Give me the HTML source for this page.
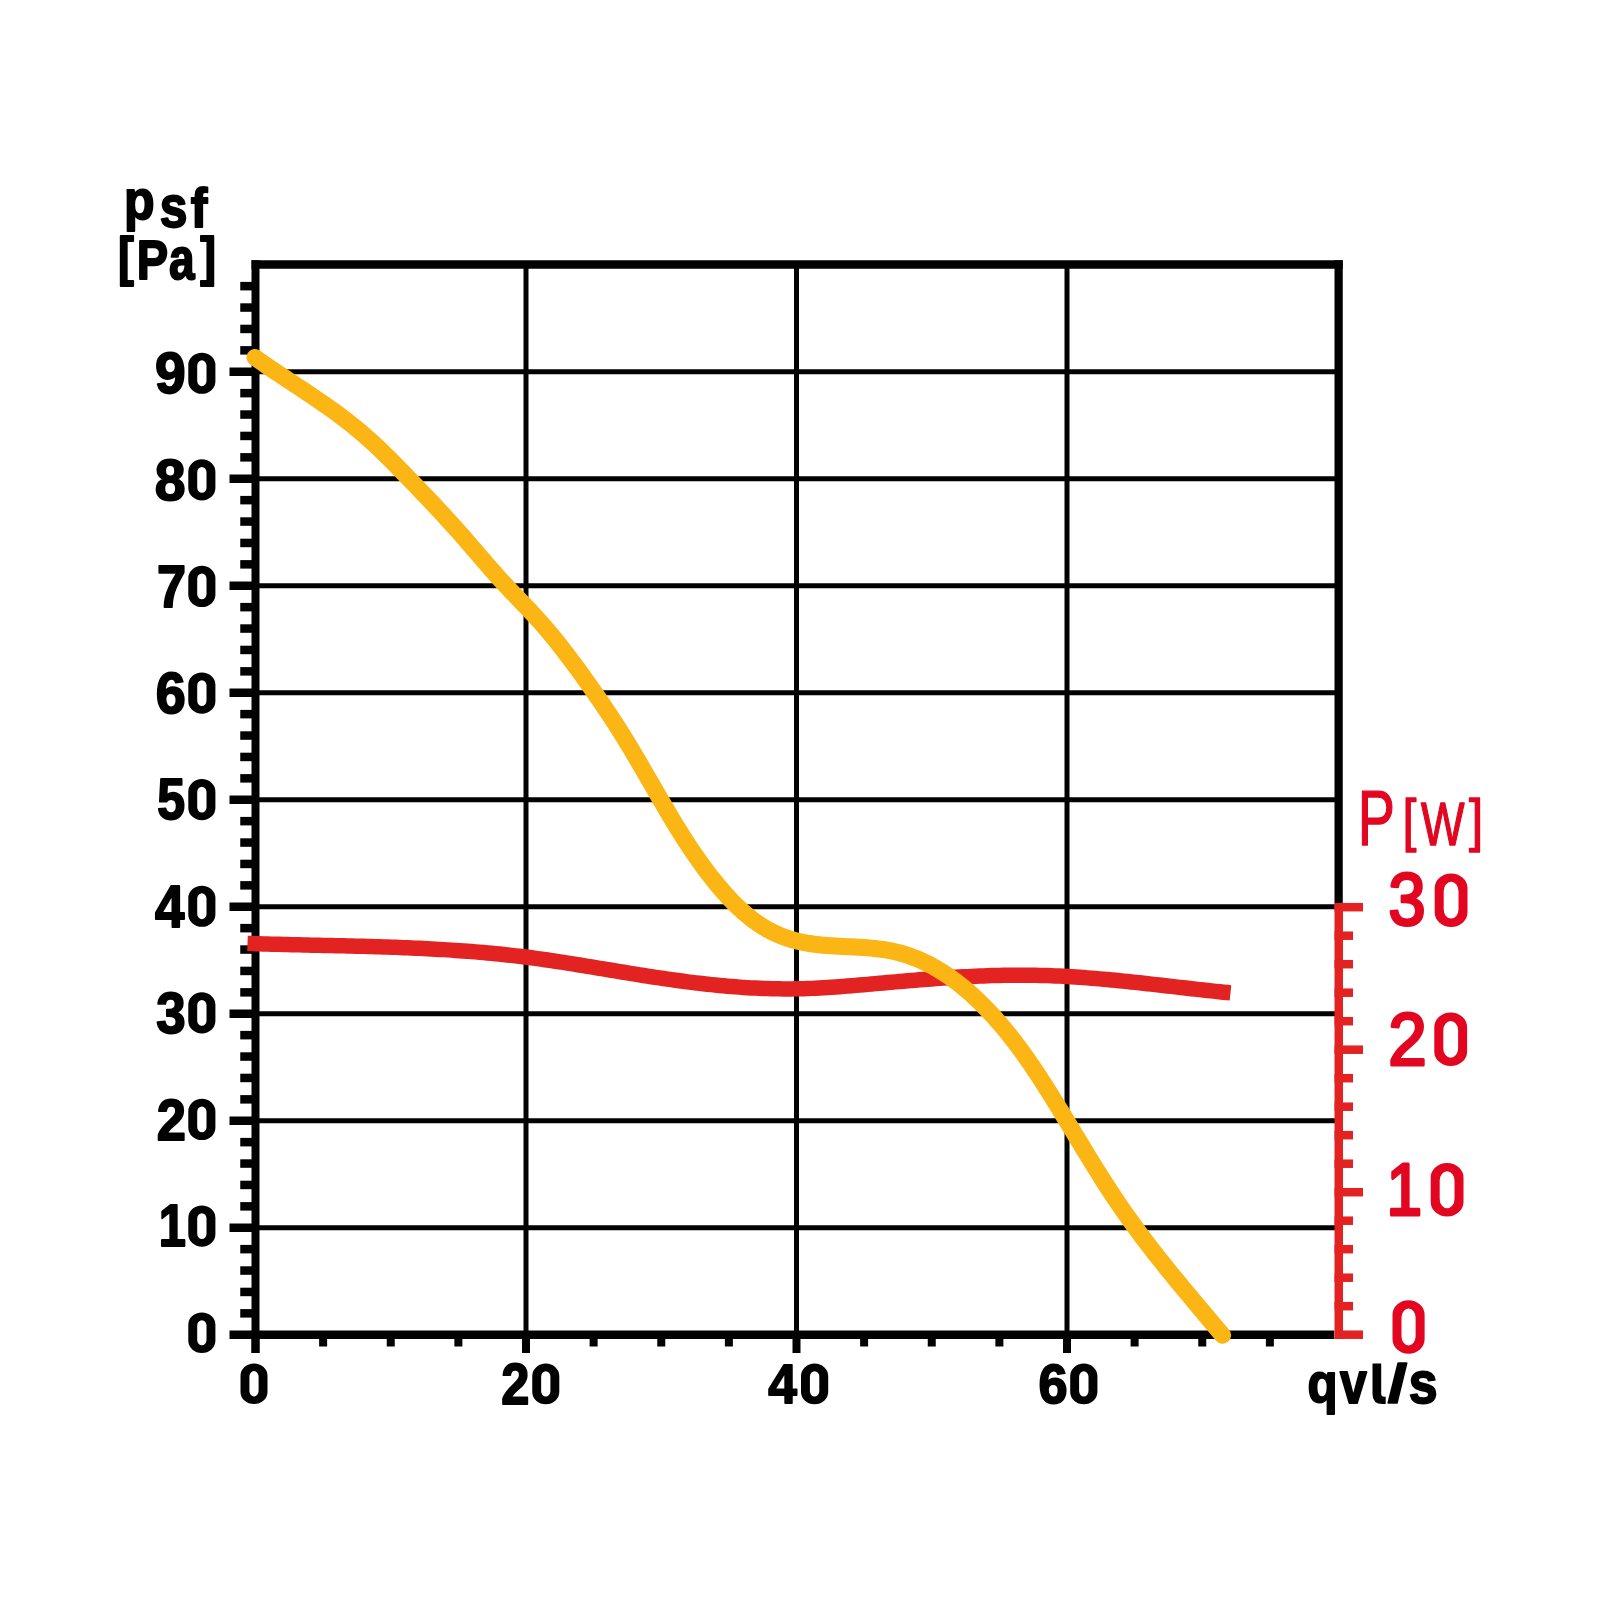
<!DOCTYPE html>
<html><head><meta charset="utf-8"><style>
html,body{margin:0;padding:0;background:#fff;}
body{width:1600px;height:1600px;overflow:hidden;}
svg{display:block;font-family:"Liberation Sans",sans-serif;}
</style></head><body>
<svg width="1600" height="1600" viewBox="0 0 1600 1600">
<rect width="1600" height="1600" fill="#fff"/>
<rect x="255.5" y="1225.25" width="1083.25" height="5.0" fill="#020202"/>
<rect x="255.5" y="1118.25" width="1083.25" height="5.0" fill="#020202"/>
<rect x="255.5" y="1011.25" width="1083.25" height="5.0" fill="#020202"/>
<rect x="255.5" y="904.25" width="1083.25" height="5.0" fill="#020202"/>
<rect x="255.5" y="797.25" width="1083.25" height="5.0" fill="#020202"/>
<rect x="255.5" y="690.25" width="1083.25" height="5.0" fill="#020202"/>
<rect x="255.5" y="583.25" width="1083.25" height="5.0" fill="#020202"/>
<rect x="255.5" y="476.25" width="1083.25" height="5.0" fill="#020202"/>
<rect x="255.5" y="369.25" width="1083.25" height="5.0" fill="#020202"/>
<rect x="523.50" y="264.5" width="5.0" height="1070.25" fill="#020202"/>
<rect x="794.00" y="264.5" width="5.0" height="1070.25" fill="#020202"/>
<rect x="1064.50" y="264.5" width="5.0" height="1070.25" fill="#020202"/>
<rect x="229.5" y="1330.50" width="26" height="8.5" fill="#020202"/>
<rect x="240.25" y="1309.10" width="15" height="8.5" fill="#020202"/>
<rect x="240.25" y="1287.70" width="15" height="8.5" fill="#020202"/>
<rect x="240.25" y="1266.30" width="15" height="8.5" fill="#020202"/>
<rect x="240.25" y="1244.90" width="15" height="8.5" fill="#020202"/>
<rect x="229.5" y="1223.50" width="26" height="8.5" fill="#020202"/>
<rect x="240.25" y="1202.10" width="15" height="8.5" fill="#020202"/>
<rect x="240.25" y="1180.70" width="15" height="8.5" fill="#020202"/>
<rect x="240.25" y="1159.30" width="15" height="8.5" fill="#020202"/>
<rect x="240.25" y="1137.90" width="15" height="8.5" fill="#020202"/>
<rect x="229.5" y="1116.50" width="26" height="8.5" fill="#020202"/>
<rect x="240.25" y="1095.10" width="15" height="8.5" fill="#020202"/>
<rect x="240.25" y="1073.70" width="15" height="8.5" fill="#020202"/>
<rect x="240.25" y="1052.30" width="15" height="8.5" fill="#020202"/>
<rect x="240.25" y="1030.90" width="15" height="8.5" fill="#020202"/>
<rect x="229.5" y="1009.50" width="26" height="8.5" fill="#020202"/>
<rect x="240.25" y="988.10" width="15" height="8.5" fill="#020202"/>
<rect x="240.25" y="966.70" width="15" height="8.5" fill="#020202"/>
<rect x="240.25" y="945.30" width="15" height="8.5" fill="#020202"/>
<rect x="240.25" y="923.90" width="15" height="8.5" fill="#020202"/>
<rect x="229.5" y="902.50" width="26" height="8.5" fill="#020202"/>
<rect x="240.25" y="881.10" width="15" height="8.5" fill="#020202"/>
<rect x="240.25" y="859.70" width="15" height="8.5" fill="#020202"/>
<rect x="240.25" y="838.30" width="15" height="8.5" fill="#020202"/>
<rect x="240.25" y="816.90" width="15" height="8.5" fill="#020202"/>
<rect x="229.5" y="795.50" width="26" height="8.5" fill="#020202"/>
<rect x="240.25" y="774.10" width="15" height="8.5" fill="#020202"/>
<rect x="240.25" y="752.70" width="15" height="8.5" fill="#020202"/>
<rect x="240.25" y="731.30" width="15" height="8.5" fill="#020202"/>
<rect x="240.25" y="709.90" width="15" height="8.5" fill="#020202"/>
<rect x="229.5" y="688.50" width="26" height="8.5" fill="#020202"/>
<rect x="240.25" y="667.10" width="15" height="8.5" fill="#020202"/>
<rect x="240.25" y="645.70" width="15" height="8.5" fill="#020202"/>
<rect x="240.25" y="624.30" width="15" height="8.5" fill="#020202"/>
<rect x="240.25" y="602.90" width="15" height="8.5" fill="#020202"/>
<rect x="229.5" y="581.50" width="26" height="8.5" fill="#020202"/>
<rect x="240.25" y="560.10" width="15" height="8.5" fill="#020202"/>
<rect x="240.25" y="538.70" width="15" height="8.5" fill="#020202"/>
<rect x="240.25" y="517.30" width="15" height="8.5" fill="#020202"/>
<rect x="240.25" y="495.90" width="15" height="8.5" fill="#020202"/>
<rect x="229.5" y="474.50" width="26" height="8.5" fill="#020202"/>
<rect x="240.25" y="453.10" width="15" height="8.5" fill="#020202"/>
<rect x="240.25" y="431.70" width="15" height="8.5" fill="#020202"/>
<rect x="240.25" y="410.30" width="15" height="8.5" fill="#020202"/>
<rect x="240.25" y="388.90" width="15" height="8.5" fill="#020202"/>
<rect x="229.5" y="367.50" width="26" height="8.5" fill="#020202"/>
<rect x="240.25" y="346.10" width="15" height="8.5" fill="#020202"/>
<rect x="240.25" y="324.70" width="15" height="8.5" fill="#020202"/>
<rect x="240.25" y="303.30" width="15" height="8.5" fill="#020202"/>
<rect x="240.25" y="281.90" width="15" height="8.5" fill="#020202"/>
<rect x="251.50" y="1334.75" width="8" height="18.25" fill="#020202"/>
<rect x="319.12" y="1334.75" width="8" height="11.75" fill="#020202"/>
<rect x="386.75" y="1334.75" width="8" height="11.75" fill="#020202"/>
<rect x="454.38" y="1334.75" width="8" height="11.75" fill="#020202"/>
<rect x="522.00" y="1334.75" width="8" height="18.25" fill="#020202"/>
<rect x="589.62" y="1334.75" width="8" height="11.75" fill="#020202"/>
<rect x="657.25" y="1334.75" width="8" height="11.75" fill="#020202"/>
<rect x="724.88" y="1334.75" width="8" height="11.75" fill="#020202"/>
<rect x="792.50" y="1334.75" width="8" height="18.25" fill="#020202"/>
<rect x="860.12" y="1334.75" width="8" height="11.75" fill="#020202"/>
<rect x="927.75" y="1334.75" width="8" height="11.75" fill="#020202"/>
<rect x="995.38" y="1334.75" width="8" height="11.75" fill="#020202"/>
<rect x="1063.00" y="1334.75" width="8" height="18.25" fill="#020202"/>
<rect x="1130.62" y="1334.75" width="8" height="11.75" fill="#020202"/>
<rect x="1198.25" y="1334.75" width="8" height="11.75" fill="#020202"/>
<rect x="1265.88" y="1334.75" width="8" height="11.75" fill="#020202"/>
<rect x="251.5" y="260.25" width="8" height="1092.75" fill="#020202"/>
<rect x="251.5" y="260.25" width="1091.25" height="8.5" fill="#020202"/>
<rect x="251.5" y="1330.5" width="1082.50" height="8.5" fill="#020202"/>
<rect x="1334.5" y="260.25" width="8.25" height="642.75" fill="#020202"/>
<rect x="1334.5" y="903" width="8.5" height="436.00" fill="#E22322"/>
<rect x="1334.5" y="1330.45" width="28.5" height="8.5" fill="#E22322"/>
<rect x="1334.5" y="1301.95" width="18.5" height="8.5" fill="#E22322"/>
<rect x="1334.5" y="1273.45" width="18.5" height="8.5" fill="#E22322"/>
<rect x="1334.5" y="1244.95" width="18.5" height="8.5" fill="#E22322"/>
<rect x="1334.5" y="1216.45" width="18.5" height="8.5" fill="#E22322"/>
<rect x="1334.5" y="1187.95" width="28.5" height="8.5" fill="#E22322"/>
<rect x="1334.5" y="1159.45" width="18.5" height="8.5" fill="#E22322"/>
<rect x="1334.5" y="1130.95" width="18.5" height="8.5" fill="#E22322"/>
<rect x="1334.5" y="1102.45" width="18.5" height="8.5" fill="#E22322"/>
<rect x="1334.5" y="1073.95" width="18.5" height="8.5" fill="#E22322"/>
<rect x="1334.5" y="1045.45" width="28.5" height="8.5" fill="#E22322"/>
<rect x="1334.5" y="1016.95" width="18.5" height="8.5" fill="#E22322"/>
<rect x="1334.5" y="988.45" width="18.5" height="8.5" fill="#E22322"/>
<rect x="1334.5" y="959.95" width="18.5" height="8.5" fill="#E22322"/>
<rect x="1334.5" y="931.45" width="18.5" height="8.5" fill="#E22322"/>
<rect x="1334.5" y="902.95" width="28.5" height="8.5" fill="#E22322"/>
<path d="M247.50,943.39 L251.50,943.53 L255.50,943.67 L259.50,943.79 L263.50,943.92 L267.50,944.03 L271.50,944.15 L275.50,944.26 L279.50,944.37 L283.50,944.47 L287.50,944.57 L291.50,944.67 L295.50,944.77 L299.50,944.86 L303.50,944.95 L307.50,945.04 L311.50,945.14 L315.50,945.22 L319.50,945.31 L323.50,945.40 L327.50,945.49 L331.50,945.58 L335.50,945.68 L339.50,945.77 L343.50,945.86 L347.50,945.96 L351.50,946.06 L355.50,946.16 L359.50,946.26 L363.50,946.37 L367.50,946.48 L371.50,946.59 L375.50,946.71 L379.50,946.83 L383.50,946.96 L387.50,947.09 L391.50,947.23 L395.50,947.37 L399.50,947.52 L403.50,947.67 L407.50,947.83 L411.50,948.00 L415.50,948.18 L419.50,948.36 L423.50,948.55 L427.50,948.75 L431.50,948.96 L435.50,949.17 L439.50,949.40 L443.50,949.63 L447.50,949.88 L451.50,950.13 L455.50,950.40 L459.50,950.67 L463.50,950.96 L467.50,951.26 L471.50,951.57 L475.50,951.89 L479.50,952.22 L483.50,952.57 L487.50,952.93 L491.50,953.30 L495.50,953.69 L499.50,954.08 L503.50,954.50 L507.50,954.93 L511.50,955.37 L515.50,955.83 L519.50,956.30 L523.50,956.79 L527.50,957.29 L531.50,957.81 L535.50,958.35 L539.50,958.90 L543.50,959.46 L547.50,960.04 L551.50,960.62 L555.50,961.22 L559.50,961.83 L563.50,962.44 L567.50,963.07 L571.50,963.70 L575.50,964.34 L579.50,964.99 L583.50,965.64 L587.50,966.29 L591.50,966.95 L595.50,967.61 L599.50,968.28 L603.50,968.94 L607.50,969.61 L611.50,970.27 L615.50,970.93 L619.50,971.60 L623.50,972.25 L627.50,972.91 L631.50,973.56 L635.50,974.21 L639.50,974.84 L643.50,975.48 L647.50,976.10 L651.50,976.72 L655.50,977.33 L659.50,977.93 L663.50,978.52 L667.50,979.10 L671.50,979.67 L675.50,980.22 L679.50,980.77 L683.50,981.30 L687.50,981.82 L691.50,982.33 L695.50,982.82 L699.50,983.30 L703.50,983.76 L707.50,984.21 L711.50,984.64 L715.50,985.05 L719.50,985.44 L723.50,985.82 L727.50,986.18 L731.50,986.52 L735.50,986.84 L739.50,987.13 L743.50,987.41 L747.50,987.67 L751.50,987.90 L755.50,988.11 L759.50,988.30 L763.50,988.46 L767.50,988.60 L771.50,988.71 L775.50,988.80 L779.50,988.86 L783.50,988.90 L787.50,988.91 L791.50,988.89 L795.50,988.84 L799.50,988.76 L803.50,988.65 L807.50,988.52 L811.50,988.37 L815.50,988.19 L819.50,987.98 L823.50,987.76 L827.50,987.52 L831.50,987.26 L835.50,986.98 L839.50,986.69 L843.50,986.38 L847.50,986.06 L851.50,985.74 L855.50,985.40 L859.50,985.06 L863.50,984.71 L867.50,984.35 L871.50,984.00 L875.50,983.64 L879.50,983.28 L883.50,982.92 L887.50,982.56 L891.50,982.21 L895.50,981.86 L899.50,981.51 L903.50,981.17 L907.50,980.83 L911.50,980.50 L915.50,980.17 L919.50,979.84 L923.50,979.53 L927.50,979.22 L931.50,978.92 L935.50,978.62 L939.50,978.34 L943.50,978.06 L947.50,977.79 L951.50,977.54 L955.50,977.29 L959.50,977.05 L963.50,976.83 L967.50,976.62 L971.50,976.42 L975.50,976.23 L979.50,976.05 L983.50,975.89 L987.50,975.75 L991.50,975.62 L995.50,975.50 L999.50,975.40 L1003.50,975.32 L1007.50,975.25 L1011.50,975.20 L1015.50,975.17 L1019.50,975.15 L1023.50,975.16 L1027.50,975.18 L1031.50,975.23 L1035.50,975.29 L1039.50,975.38 L1043.50,975.48 L1047.50,975.61 L1051.50,975.76 L1055.50,975.93 L1059.50,976.11 L1063.50,976.32 L1067.50,976.54 L1071.50,976.78 L1075.50,977.03 L1079.50,977.30 L1083.50,977.59 L1087.50,977.89 L1091.50,978.20 L1095.50,978.53 L1099.50,978.87 L1103.50,979.22 L1107.50,979.59 L1111.50,979.96 L1115.50,980.34 L1119.50,980.74 L1123.50,981.14 L1127.50,981.55 L1131.50,981.97 L1135.50,982.39 L1139.50,982.82 L1143.50,983.26 L1147.50,983.70 L1151.50,984.14 L1155.50,984.59 L1159.50,985.04 L1163.50,985.50 L1167.50,985.95 L1171.50,986.41 L1175.50,986.87 L1179.50,987.33 L1183.50,987.78 L1187.50,988.24 L1191.50,988.69 L1195.50,989.15 L1199.50,989.59 L1203.50,990.04 L1207.50,990.48 L1211.50,990.91 L1215.50,991.34 L1219.50,991.76 L1223.50,992.17 L1227.50,992.58 L1230.50,992.88" fill="none" stroke="#E22322" stroke-width="15.5" stroke-linecap="butt" stroke-linejoin="round"/>
<path d="M255.00,357.46 L259.00,360.32 L263.00,363.13 L267.00,365.90 L271.00,368.64 L275.00,371.35 L279.00,374.03 L283.00,376.69 L287.00,379.34 L291.00,381.98 L295.00,384.62 L299.00,387.26 L303.00,389.91 L307.00,392.57 L311.00,395.25 L315.00,397.95 L319.00,400.68 L323.00,403.44 L327.00,406.24 L331.00,409.08 L335.00,411.98 L339.00,414.93 L343.00,417.94 L347.00,421.01 L351.00,424.16 L355.00,427.38 L359.00,430.68 L363.00,434.06 L367.00,437.54 L371.00,441.12 L375.00,444.79 L379.00,448.56 L383.00,452.41 L387.00,456.33 L391.00,460.32 L395.00,464.35 L399.00,468.43 L403.00,472.54 L407.00,476.66 L411.00,480.80 L415.00,484.95 L419.00,489.10 L423.00,493.28 L427.00,497.47 L431.00,501.69 L435.00,505.94 L439.00,510.21 L443.00,514.53 L447.00,518.88 L451.00,523.27 L455.00,527.71 L459.00,532.20 L463.00,536.74 L467.00,541.33 L471.00,545.95 L475.00,550.58 L479.00,555.23 L483.00,559.86 L487.00,564.48 L491.00,569.06 L495.00,573.60 L499.00,578.08 L503.00,582.48 L507.00,586.81 L511.00,591.04 L515.00,595.23 L519.00,599.37 L523.00,603.52 L527.00,607.69 L531.00,611.91 L535.00,616.20 L539.00,620.60 L543.00,625.13 L547.00,629.78 L551.00,634.55 L555.00,639.43 L559.00,644.43 L563.00,649.52 L567.00,654.72 L571.00,660.01 L575.00,665.38 L579.00,670.84 L583.00,676.38 L587.00,681.99 L591.00,687.66 L595.00,693.40 L599.00,699.20 L603.00,705.07 L607.00,711.02 L611.00,717.05 L615.00,723.19 L619.00,729.43 L623.00,735.78 L627.00,742.27 L631.00,748.87 L635.00,755.59 L639.00,762.39 L643.00,769.26 L647.00,776.17 L651.00,783.11 L655.00,790.04 L659.00,796.96 L663.00,803.84 L667.00,810.65 L671.00,817.39 L675.00,824.02 L679.00,830.52 L683.00,836.88 L687.00,843.08 L691.00,849.13 L695.00,855.01 L699.00,860.73 L703.00,866.28 L707.00,871.66 L711.00,876.86 L715.00,881.89 L719.00,886.73 L723.00,891.38 L727.00,895.84 L731.00,900.10 L735.00,904.17 L739.00,908.04 L743.00,911.70 L747.00,915.15 L751.00,918.39 L755.00,921.41 L759.00,924.21 L763.00,926.79 L767.00,929.15 L771.00,931.31 L775.00,933.26 L779.00,935.04 L783.00,936.63 L787.00,938.06 L791.00,939.34 L795.00,940.47 L799.00,941.47 L803.00,942.34 L807.00,943.10 L811.00,943.75 L815.00,944.31 L819.00,944.79 L823.00,945.19 L827.00,945.53 L831.00,945.82 L835.00,946.07 L839.00,946.29 L843.00,946.48 L847.00,946.66 L851.00,946.84 L855.00,947.04 L859.00,947.25 L863.00,947.49 L867.00,947.77 L871.00,948.10 L875.00,948.49 L879.00,948.96 L883.00,949.50 L887.00,950.14 L891.00,950.88 L895.00,951.73 L899.00,952.71 L903.00,953.81 L907.00,955.06 L911.00,956.44 L915.00,957.95 L919.00,959.61 L923.00,961.40 L927.00,963.33 L931.00,965.40 L935.00,967.61 L939.00,969.97 L943.00,972.46 L947.00,975.10 L951.00,977.88 L955.00,980.80 L959.00,983.87 L963.00,987.08 L967.00,990.44 L971.00,993.95 L975.00,997.60 L979.00,1001.40 L983.00,1005.34 L987.00,1009.44 L991.00,1013.68 L995.00,1018.07 L999.00,1022.62 L1003.00,1027.32 L1007.00,1032.16 L1011.00,1037.16 L1015.00,1042.32 L1019.00,1047.62 L1023.00,1053.08 L1027.00,1058.70 L1031.00,1064.47 L1035.00,1070.38 L1039.00,1076.43 L1043.00,1082.59 L1047.00,1088.86 L1051.00,1095.21 L1055.00,1101.65 L1059.00,1108.15 L1063.00,1114.70 L1067.00,1121.29 L1071.00,1127.90 L1075.00,1134.53 L1079.00,1141.15 L1083.00,1147.76 L1087.00,1154.34 L1091.00,1160.88 L1095.00,1167.37 L1099.00,1173.78 L1103.00,1180.12 L1107.00,1186.36 L1111.00,1192.49 L1115.00,1198.51 L1119.00,1204.42 L1123.00,1210.23 L1127.00,1215.93 L1131.00,1221.54 L1135.00,1227.06 L1139.00,1232.49 L1143.00,1237.84 L1147.00,1243.12 L1151.00,1248.33 L1155.00,1253.47 L1159.00,1258.55 L1163.00,1263.58 L1167.00,1268.56 L1171.00,1273.49 L1175.00,1278.38 L1179.00,1283.24 L1183.00,1288.07 L1187.00,1292.87 L1191.00,1297.65 L1195.00,1302.42 L1199.00,1307.17 L1203.00,1311.92 L1207.00,1316.67 L1211.00,1321.43 L1215.00,1326.20 L1219.00,1330.98 L1222.60,1335.30" fill="none" stroke="#FBB514" stroke-width="17" stroke-linecap="round" stroke-linejoin="round"/>
<text transform="matrix(0.27629 0 0 0.28592 155.02 392.98)" font-size="200" font-weight="bold" fill="#020202" stroke="#020202" stroke-width="6.40" stroke-linejoin="round">9</text>
<path d="M188.30,365.01 A13.55,12.36 0 0 1 215.40,365.01 V381.49 A13.55,12.36 0 0 1 188.30,381.49 Z M197.20,365.70 A4.65,5.35 0 0 1 206.50,365.70 V380.80 A4.65,5.35 0 0 1 197.20,380.80 Z" fill="#020202" fill-rule="evenodd"/>
<text transform="matrix(0.27677 0 0 0.28592 154.69 499.58)" font-size="200" font-weight="bold" fill="#020202" stroke="#020202" stroke-width="6.40" stroke-linejoin="round">8</text>
<path d="M188.30,471.61 A13.55,12.36 0 0 1 215.40,471.61 V488.09 A13.55,12.36 0 0 1 188.30,488.09 Z M197.20,472.30 A4.65,5.35 0 0 1 206.50,472.30 V487.40 A4.65,5.35 0 0 1 197.20,487.40 Z" fill="#020202" fill-rule="evenodd"/>
<text transform="matrix(0.26129 0 0 0.29420 157.10 606.75)" font-size="200" font-weight="bold" fill="#020202" stroke="#020202" stroke-width="6.48" stroke-linejoin="round">7</text>
<path d="M188.30,578.21 A13.55,12.36 0 0 1 215.40,578.21 V594.69 A13.55,12.36 0 0 1 188.30,594.69 Z M197.20,578.90 A4.65,5.35 0 0 1 206.50,578.90 V594.00 A4.65,5.35 0 0 1 197.20,594.00 Z" fill="#020202" fill-rule="evenodd"/>
<text transform="matrix(0.27010 0 0 0.28592 155.66 712.78)" font-size="200" font-weight="bold" fill="#020202" stroke="#020202" stroke-width="6.47" stroke-linejoin="round">6</text>
<path d="M188.30,684.81 A13.55,12.36 0 0 1 215.40,684.81 V701.29 A13.55,12.36 0 0 1 188.30,701.29 Z M197.20,685.50 A4.65,5.35 0 0 1 206.50,685.50 V700.60 A4.65,5.35 0 0 1 197.20,700.60 Z" fill="#020202" fill-rule="evenodd"/>
<text transform="matrix(0.25000 0 0 0.29000 157.25 819.37)" font-size="200" font-weight="bold" fill="#020202" stroke="#020202" stroke-width="6.67" stroke-linejoin="round">5</text>
<path d="M188.30,791.41 A13.55,12.36 0 0 1 215.40,791.41 V807.89 A13.55,12.36 0 0 1 188.30,807.89 Z M197.20,792.10 A4.65,5.35 0 0 1 206.50,792.10 V807.20 A4.65,5.35 0 0 1 197.20,807.20 Z" fill="#020202" fill-rule="evenodd"/>
<text transform="matrix(0.26449 0 0 0.29420 155.06 926.55)" font-size="200" font-weight="bold" fill="#020202" stroke="#020202" stroke-width="6.44" stroke-linejoin="round">4</text>
<path d="M188.30,898.01 A13.55,12.36 0 0 1 215.40,898.01 V914.49 A13.55,12.36 0 0 1 188.30,914.49 Z M197.20,898.70 A4.65,5.35 0 0 1 206.50,898.70 V913.80 A4.65,5.35 0 0 1 197.20,913.80 Z" fill="#020202" fill-rule="evenodd"/>
<text transform="matrix(0.26465 0 0 0.28592 156.23 1032.58)" font-size="200" font-weight="bold" fill="#020202" stroke="#020202" stroke-width="6.54" stroke-linejoin="round">3</text>
<path d="M188.30,1004.61 A13.55,12.36 0 0 1 215.40,1004.61 V1021.09 A13.55,12.36 0 0 1 188.30,1021.09 Z M197.20,1005.30 A4.65,5.35 0 0 1 206.50,1005.30 V1020.40 A4.65,5.35 0 0 1 197.20,1020.40 Z" fill="#020202" fill-rule="evenodd"/>
<text transform="matrix(0.26250 0 0 0.29000 156.71 1139.75)" font-size="200" font-weight="bold" fill="#020202" stroke="#020202" stroke-width="6.52" stroke-linejoin="round">2</text>
<path d="M188.30,1111.21 A13.55,12.36 0 0 1 215.40,1111.21 V1127.69 A13.55,12.36 0 0 1 188.30,1127.69 Z M197.20,1111.90 A4.65,5.35 0 0 1 206.50,1111.90 V1127.00 A4.65,5.35 0 0 1 197.20,1127.00 Z" fill="#020202" fill-rule="evenodd"/>
<text transform="matrix(0.24409 0 0 0.29420 158.68 1246.35)" font-size="200" font-weight="bold" fill="#020202" stroke="#020202" stroke-width="6.69" stroke-linejoin="round">1</text>
<path d="M188.30,1217.81 A13.55,12.36 0 0 1 215.40,1217.81 V1234.29 A13.55,12.36 0 0 1 188.30,1234.29 Z M197.20,1218.50 A4.65,5.35 0 0 1 206.50,1218.50 V1233.60 A4.65,5.35 0 0 1 197.20,1233.60 Z" fill="#020202" fill-rule="evenodd"/>
<path d="M188.30,1324.65 A13.55,12.15 0 0 1 215.40,1324.65 V1340.85 A13.55,12.15 0 0 1 188.30,1340.85 Z M197.20,1325.55 A4.65,5.35 0 0 1 206.50,1325.55 V1339.95 A4.65,5.35 0 0 1 197.20,1339.95 Z" fill="#020202" fill-rule="evenodd"/>
<path d="M240.50,1375.61 A13.50,12.21 0 0 1 267.50,1375.61 V1391.89 A13.50,12.21 0 0 1 240.50,1391.89 Z M249.40,1376.39 A4.60,5.29 0 0 1 258.60,1376.39 V1391.11 A4.60,5.29 0 0 1 249.40,1391.11 Z" fill="#020202" fill-rule="evenodd"/>
<text transform="matrix(0.25260 0 0 0.28286 501.28 1404.05)" font-size="200" font-weight="bold" fill="#020202" stroke="#020202" stroke-width="6.72" stroke-linejoin="round">2</text>
<path d="M532.25,1375.78 A13.52,12.18 0 0 1 559.30,1375.78 V1392.02 A13.52,12.18 0 0 1 532.25,1392.02 Z M541.15,1376.62 A4.62,5.32 0 0 1 550.40,1376.62 V1391.18 A4.62,5.32 0 0 1 541.15,1391.18 Z" fill="#020202" fill-rule="evenodd"/>
<text transform="matrix(0.25794 0 0 0.27826 768.28 1403.05)" font-size="200" font-weight="bold" fill="#020202" stroke="#020202" stroke-width="6.71" stroke-linejoin="round">4</text>
<path d="M801.00,1375.78 A13.60,12.18 0 0 1 828.20,1375.78 V1392.02 A13.60,12.18 0 0 1 801.00,1392.02 Z M809.90,1376.70 A4.70,5.41 0 0 1 819.30,1376.70 V1391.10 A4.70,5.41 0 0 1 809.90,1391.10 Z" fill="#020202" fill-rule="evenodd"/>
<text transform="matrix(0.26134 0 0 0.27817 1038.62 1402.99)" font-size="200" font-weight="bold" fill="#020202" stroke="#020202" stroke-width="6.67" stroke-linejoin="round">6</text>
<path d="M1070.20,1375.78 A13.60,12.18 0 0 1 1097.40,1375.78 V1392.02 A13.60,12.18 0 0 1 1070.20,1392.02 Z M1079.10,1376.70 A4.70,5.40 0 0 1 1088.50,1376.70 V1391.10 A4.70,5.40 0 0 1 1079.10,1391.10 Z" fill="#020202" fill-rule="evenodd"/>
<text transform="matrix(0.24653 0 0 0.27667 1307.58 1401.63)" font-size="200" font-weight="bold" fill="#020202" stroke="#020202" stroke-width="6.88" stroke-linejoin="round">q</text>
<text transform="matrix(0.24128 0 0 0.29528 1340.11 1403.05)" font-size="200" font-weight="bold" fill="#020202" stroke="#020202" stroke-width="6.71" stroke-linejoin="round">v</text>
<path d="M1372.5,1363.6 H1381.2 V1393.5 Q1381.2,1396.8 1384.2,1396.8 H1385.7 V1404 H1382.5 Q1372.5,1404 1372.5,1394 Z" fill="#020202"/>
<text transform="matrix(0.35000 0 0 0.26510 1387.65 1402.49)" font-size="200" font-weight="bold" fill="#020202" stroke="#020202" stroke-width="5.85" stroke-linejoin="round">/</text>
<text transform="matrix(0.25937 0 0 0.29273 1408.83 1403.36)" font-size="200" font-weight="bold" fill="#020202" stroke="#020202" stroke-width="6.52" stroke-linejoin="round">s</text>
<text transform="matrix(0.25050 0 0 0.28133 124.09 219.13)" font-size="200" font-weight="bold" fill="#020202" stroke="#020202" stroke-width="6.77" stroke-linejoin="round">p</text>
<text transform="matrix(0.24896 0 0 0.29182 159.71 226.97)" font-size="200" font-weight="bold" fill="#020202" stroke="#020202" stroke-width="6.66" stroke-linejoin="round">s</text>
<text transform="matrix(0.25000 0 0 0.27862 190.70 226.85)" font-size="200" font-weight="bold" fill="#020202" stroke="#020202" stroke-width="6.81" stroke-linejoin="round">f</text>
<text transform="matrix(0.23774 0 0 0.26578 117.93 274.89)" font-size="200" font-weight="bold" fill="#020202" stroke="#020202" stroke-width="7.15" stroke-linejoin="round">[</text>
<text transform="matrix(0.23509 0 0 0.28116 136.69 278.55)" font-size="200" font-weight="bold" fill="#020202" stroke="#020202" stroke-width="6.97" stroke-linejoin="round">P</text>
<text transform="matrix(0.22991 0 0 0.29182 169.07 278.77)" font-size="200" font-weight="bold" fill="#020202" stroke="#020202" stroke-width="6.90" stroke-linejoin="round">a</text>
<text transform="matrix(0.23774 0 0 0.26578 200.37 274.89)" font-size="200" font-weight="bold" fill="#020202" stroke="#020202" stroke-width="7.15" stroke-linejoin="round">]</text>
<text transform="matrix(0.33298 0 0 0.36620 1388.39 925.12)" font-size="200" font-weight="normal" fill="#E20620" stroke="#E20620" stroke-width="8.58" stroke-linejoin="round">3</text>
<path d="M1434.70,887.85 A16.40,14.45 0 0 1 1467.50,887.85 V912.45 A16.40,14.45 0 0 1 1434.70,912.45 Z M1443.70,890.95 A7.40,9.25 0 0 1 1458.50,890.95 V909.35 A7.40,9.25 0 0 1 1443.70,909.35 Z" fill="#E20620" fill-rule="evenodd"/>
<text transform="matrix(0.34615 0 0 0.37071 1388.29 1065.25)" font-size="200" font-weight="normal" fill="#E20620" stroke="#E20620" stroke-width="8.37" stroke-linejoin="round">2</text>
<path d="M1434.30,1027.05 A16.40,14.44 0 0 1 1467.10,1027.05 V1051.65 A16.40,14.44 0 0 1 1434.30,1051.65 Z M1443.30,1030.15 A7.40,9.25 0 0 1 1458.10,1030.15 V1048.55 A7.40,9.25 0 0 1 1443.30,1048.55 Z" fill="#E20620" fill-rule="evenodd"/>
<text transform="matrix(0.31977 0 0 0.36667 1386.45 1214.85)" font-size="200" font-weight="normal" fill="#E20620" stroke="#E20620" stroke-width="8.74" stroke-linejoin="round">1</text>
<path d="M1430.70,1177.44 A16.40,14.45 0 0 1 1463.50,1177.44 V1202.06 A16.40,14.45 0 0 1 1430.70,1202.06 Z M1439.70,1180.55 A7.40,9.25 0 0 1 1454.50,1180.55 V1198.95 A7.40,9.25 0 0 1 1439.70,1198.95 Z" fill="#E20620" fill-rule="evenodd"/>
<path d="M1392.50,1314.72 A16.05,14.42 0 0 1 1424.60,1314.72 V1339.28 A16.05,14.42 0 0 1 1392.50,1339.28 Z M1401.50,1317.41 A7.05,8.81 0 0 1 1415.60,1317.41 V1336.59 A7.05,8.81 0 0 1 1401.50,1336.59 Z" fill="#E20620" fill-rule="evenodd"/>
<text transform="matrix(0.27850 0 0 0.38913 1357.64 845.00)" font-size="200" font-weight="normal" fill="#E20620" stroke="#E20620" stroke-width="3.59" stroke-linejoin="round">P</text>
<text transform="matrix(0.25000 0 0 0.28770 1402.40 839.82)" font-size="200" font-weight="normal" fill="#E20620" stroke="#E20620" stroke-width="4.46" stroke-linejoin="round">[</text>
<text transform="matrix(0.23048 0 0 0.30942 1420.97 845.00)" font-size="200" font-weight="normal" fill="#E20620" stroke="#E20620" stroke-width="4.45" stroke-linejoin="round">W</text>
<text transform="matrix(0.25641 0 0 0.28770 1468.99 839.82)" font-size="200" font-weight="normal" fill="#E20620" stroke="#E20620" stroke-width="4.41" stroke-linejoin="round">]</text>
</svg>
</body></html>
